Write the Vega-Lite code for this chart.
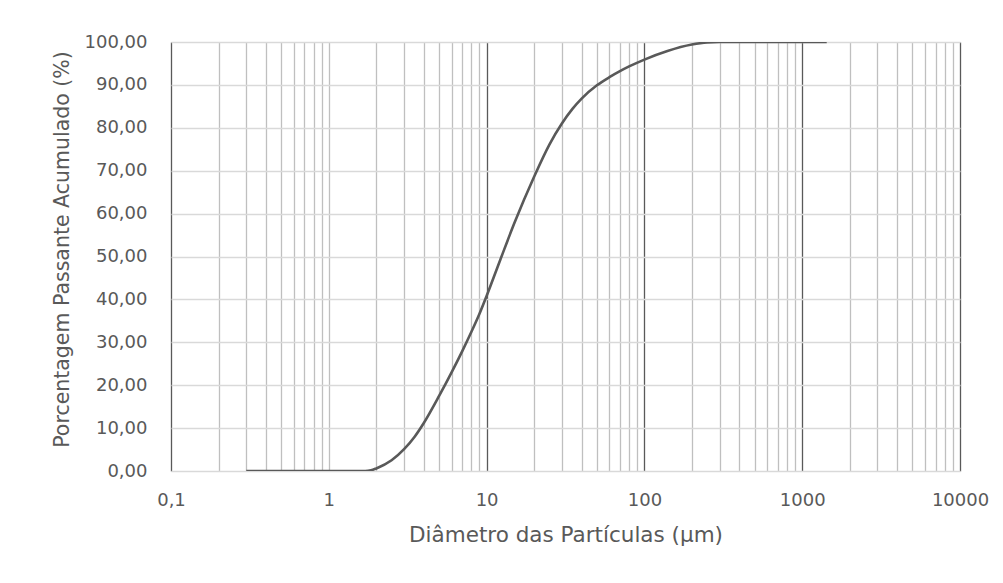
{
  "$schema": "https://vega.github.io/schema/vega-lite/v6.json",
  "width": 789,
  "height": 429,
  "autosize": {"type": "none"},
  "padding": {"left": 171, "top": 42, "right": 43, "bottom": 112},
  "background": "#ffffff",
  "config": {
    "view": {"stroke": null},
    "font": "DejaVu Sans",
    "axis": {"labelFont": "DejaVu Sans", "titleFont": "DejaVu Sans", "labelColor": "#595959", "titleColor": "#595959", "labelFontSize": 18, "titleFontSize": 21, "titleFontWeight": "normal", "ticks": false}
  },
  "data": {
    "values": [
      {"d": 0.3, "p": 0},
      {"d": 1.0, "p": 0},
      {"d": 1.7, "p": 0},
      {"d": 1.85, "p": 0.15},
      {"d": 2.0, "p": 0.6},
      {"d": 2.5, "p": 2.5},
      {"d": 3.0, "p": 5.1},
      {"d": 3.5, "p": 8.0},
      {"d": 4.0, "p": 11.2},
      {"d": 5.0, "p": 17.5},
      {"d": 6.0, "p": 23},
      {"d": 7.0, "p": 27.9},
      {"d": 8.0, "p": 32.4},
      {"d": 9.0, "p": 36.6},
      {"d": 10, "p": 40.8},
      {"d": 12.2, "p": 49.2},
      {"d": 15, "p": 57.8},
      {"d": 20, "p": 68.6},
      {"d": 25, "p": 76.1},
      {"d": 30, "p": 81.0},
      {"d": 35, "p": 84.4},
      {"d": 40, "p": 86.8},
      {"d": 50, "p": 89.9},
      {"d": 60, "p": 91.8},
      {"d": 70, "p": 93.2},
      {"d": 80, "p": 94.3},
      {"d": 100, "p": 95.9},
      {"d": 140, "p": 97.9},
      {"d": 200, "p": 99.4},
      {"d": 250, "p": 99.9},
      {"d": 300, "p": 100},
      {"d": 1430, "p": 100}
    ]
  },
  "mark": {"type": "line", "interpolate": "monotone", "color": "#595959", "strokeWidth": 2.6, "clip": true},
  "encoding": {
    "x": {
      "field": "d",
      "type": "quantitative",
      "scale": {"type": "log", "domain": [0.1, 10000], "nice": false},
      "axis": {
        "title": "Diâmetro das Partículas (µm)",
        "titleFontSize": 21.5,
        "values": [0.1,0.2,0.3,0.4,0.5,0.6,0.7,0.8,0.9,1,2,3,4,5,6,7,8,9,10,20,30,40,50,60,70,80,90,100,200,300,400,500,600,700,800,900,1000,2000,3000,4000,5000,6000,7000,8000,9000,10000],
        "labelExpr": "datum.value === 0.1 ? '0,1' : (datum.value === 1 || datum.value === 10 || datum.value === 100 || datum.value === 1000 || datum.value === 10000) ? '' + datum.value : ''",
        "labelPadding": 20,
        "titlePadding": 15,
        "domain": true,
        "domainColor": "#d9d9d9",
        "grid": true,
        "gridColor": {"condition": {"test": "datum.value === 0.1 || datum.value === 10 || datum.value === 100 || datum.value === 1000 || datum.value === 10000", "value": "#595959"}, "value": "#bfbfbf"},
        "gridWidth": 1.3,
        "labelOverlap": false,
        "labelFlush": false
      }
    },
    "y": {
      "field": "p",
      "type": "quantitative",
      "scale": {"domain": [0, 100], "nice": false},
      "axis": {
        "title": "Porcentagem Passante Acumulado (%)",
        "titleFontSize": 20.5,
        "titleY": 207,
        "values": [0,10,20,30,40,50,60,70,80,90,100],
        "labelExpr": "replace(format(datum.value, '.2f'), '.', ',')",
        "labelPadding": 24,
        "titlePadding": 12,
        "domain": false,
        "grid": true,
        "gridColor": "#d9d9d9",
        "gridWidth": 1.3
      }
    }
  }
}
